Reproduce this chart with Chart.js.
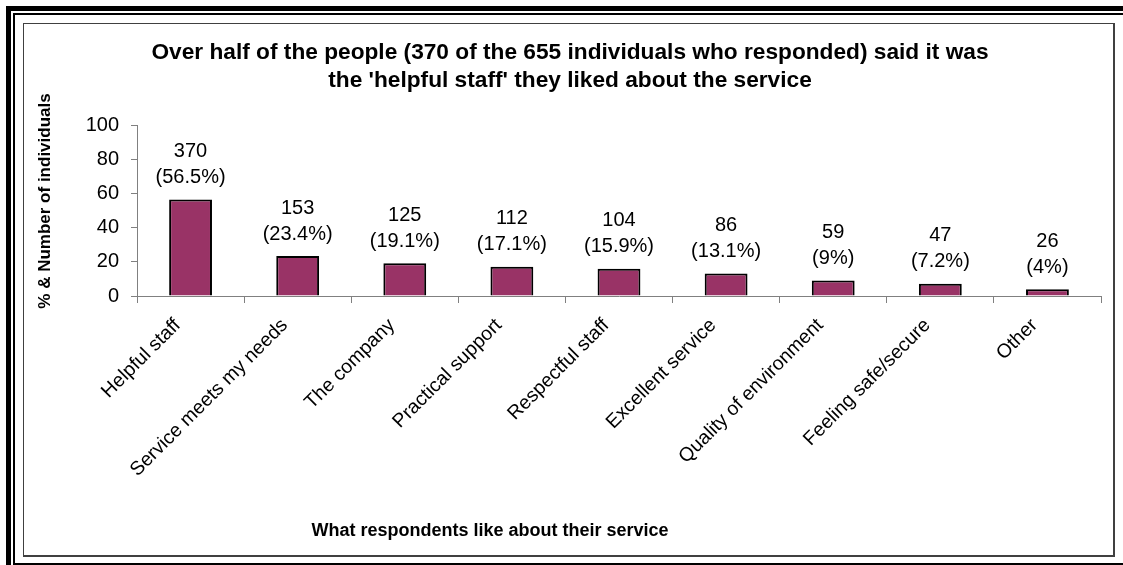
<!DOCTYPE html>
<html>
<head>
<meta charset="utf-8">
<script src="https://cdn.jsdelivr.net/npm/chart.js@4.4.1/dist/chart.umd.min.js"></script>
<style>
  html, body { margin: 0; padding: 0; background: #fff; width: 1123px; height: 565px; overflow: hidden; }
  .frame-outer { position: absolute; left: 6px; top: 6px; width: 1300px; height: 700px; border-left: 5px solid #000; border-top: 5px solid #000; }
  .frame-inner { position: absolute; left: 13px; top: 13px; width: 1300px; height: 548px; border: 2px solid #000; }
  .plot-box { position: absolute; left: 23px; top: 23px; width: 1089px; height: 531px; background: #fff;
              border-left: 1px solid #404040; border-top: 1px solid #404040;
              border-right: 2px solid #404040; border-bottom: 2px solid #404040; }
  canvas { position: absolute; left: 0; top: 0; }
</style>
</head>
<body>
<div class="frame-outer"></div>
<div class="frame-inner"></div>
<div class="plot-box"><canvas id="likes-chart" width="1089" height="531"></canvas></div>
<script>
const categories = ['Helpful staff', 'Service meets my needs', 'The company', 'Practical support',
  'Respectful staff', 'Excellent service', 'Quality of environment', 'Feeling safe/secure', 'Other'];
const counts   = [370, 153, 125, 112, 104, 86, 59, 47, 26];
const percents = [56.5, 23.4, 19.1, 17.1, 15.9, 13.1, 9, 7.2, 4];
const yTicks   = [0, 20, 40, 60, 80, 100];

const titleLines = [
  "Over half of the people (370 of the 655 individuals who responded) said it was",
  "the 'helpful staff' they liked about the service"
];
const xTitle = 'What respondents like about their service';
const yTitle = '% & Number of individuals';

const FONT = "'Liberation Sans', Arial, sans-serif";
const AXIS_GREY = '#808080';

// count + percentage written above each bar
const barLabels = {
  id: 'barLabels',
  afterDatasetsDraw(chart) {
    const { ctx } = chart;
    const meta = chart.getDatasetMeta(0);
    ctx.save();
    ctx.font = `20px ${FONT}`;
    ctx.fillStyle = '#000';
    ctx.textAlign = 'center';
    ctx.textBaseline = 'middle';
    meta.data.forEach((bar, i) => {
      ctx.fillText(String(counts[i]), bar.x, bar.y - 48);
      ctx.fillText(`(${percents[i]}%)`, bar.x, bar.y - 22);
    });
    ctx.restore();
  }
};

// chart title and both axis titles, placed on the canvas directly
const titles = {
  id: 'titles',
  afterDraw(chart) {
    const { ctx } = chart;
    ctx.save();
    ctx.fillStyle = '#000';
    ctx.textAlign = 'center';
    ctx.textBaseline = 'middle';
    ctx.font = `bold 22.7px ${FONT}`;
    titleLines.forEach((line, i) => ctx.fillText(line, 546, 29 + i * 28));
    ctx.font = `bold 18px ${FONT}`;
    ctx.fillText(xTitle, 466, 507);
    ctx.translate(21, 177);
    ctx.rotate(-Math.PI / 2);
    ctx.font = `bold 17px ${FONT}`;
    ctx.fillText(yTitle, 0, 0);
    ctx.restore();
  }
};

new Chart(document.getElementById('likes-chart'), {
  type: 'bar',
  data: {
    labels: categories,
    datasets: [{
      data: percents,
      backgroundColor: '#993366',
      borderColor: '#000',
      borderWidth: 2,
      barPercentage: 0.4,
      categoryPercentage: 1,
    }],
  },
  options: {
    responsive: false,
    animation: false,
    devicePixelRatio: 1,
    layout: { padding: { left: 0, right: 12, top: 101, bottom: 0 } },
    plugins: {
      legend: { display: false },
      tooltip: { enabled: false },
      title: { display: false },
    },
    scales: {
      x: {
        afterFit: s => { s.height = 259; },
        border: { color: AXIS_GREY, width: 1 },
        grid: { display: true, drawOnChartArea: false, color: AXIS_GREY, tickLength: 7, offset: true },
        ticks: {
          color: '#000', font: { family: FONT, size: 19.5 },
          maxRotation: 45, minRotation: 45, padding: 11, labelOffset: -13, autoSkip: false,
        },
      },
      y: {
        min: 0, max: 100,
        afterFit: s => { s.width = 113; },
        afterBuildTicks: s => { s.ticks = yTicks.map(v => ({ value: v })); },
        border: { color: AXIS_GREY, width: 1 },
        grid: { display: true, drawOnChartArea: false, color: AXIS_GREY, tickLength: 6 },
        ticks: { color: '#000', font: { family: FONT, size: 20 }, padding: 12 },
      },
    },
  },
  plugins: [barLabels, titles],
});
</script>
</body>
</html>
